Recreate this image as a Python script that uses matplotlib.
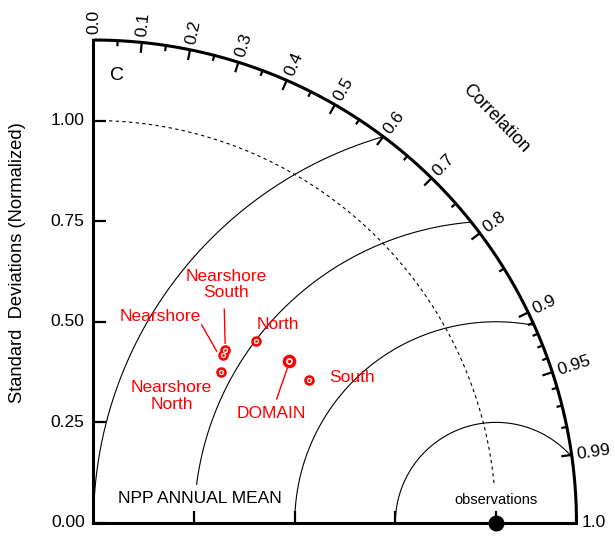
import numpy as np
import matplotlib
matplotlib.use("Agg")
import matplotlib.pyplot as plt

plt.rcParams['font.family'] = ['Liberation Sans', 'DejaVu Sans']

# ---- data: normalized standard deviation and correlation per region ----
regions = ["Nearshore South", "Nearshore", "North", "Nearshore North", "DOMAIN", "South"]
std_norm = [0.540, 0.527, 0.606, 0.490, 0.631, 0.643]
corr = [0.605, 0.610, 0.666, 0.644, 0.770, 0.833]
big_marker = [False, False, False, False, True, False]

obs_std = 1.0
max_std = 1.2
std_ticks = [0.0, 0.25, 0.50, 0.75, 1.00]
std_ticklabels = ["0.00", "0.25", "0.50", "0.75", "1.00"]
corr_major = [0.0, 0.1, 0.2, 0.3, 0.4, 0.5, 0.6, 0.7, 0.8, 0.9, 0.95, 0.99, 1.0]
corr_major_labels = ["0.0", "0.1", "0.2", "0.3", "0.4", "0.5", "0.6", "0.7", "0.8",
                     "0.9", "0.95", "0.99", "1.0"]
corr_minor = [0.05, 0.15, 0.25, 0.35, 0.45, 0.55, 0.65, 0.75, 0.85,
              0.91, 0.92, 0.93, 0.94, 0.96, 0.97, 0.98]
rms_radii = [0.25, 0.50, 0.75, 1.00]

# label text, label anchor (x, y) and optional leader line for each region
label_text = ["Nearshore\nSouth", "Nearshore", "North", "Nearshore\nNorth", "DOMAIN", "South"]
label_xy = [(0.329, 0.5925), (0.1665, 0.5126), (0.457, 0.492), (0.194, 0.3155),
            (0.441, 0.273), (0.642, 0.361)]
leaders = [((0.325, 0.531), (0.327, 0.4465)), ((0.269, 0.492), (0.306, 0.427)), None, None,
           ((0.4815, 0.3843), (0.455, 0.308)), None]

RED = "#ff0000"
FS = 12.5

fig = plt.figure(figsize=(6.15, 5.38), dpi=100)
ax = fig.add_axes([0, 0, 1, 1])
ax.set_xlim(-0.2323, 1.2957)
ax.set_ylim(-0.03727, 1.2994)
ax.set_aspect("equal")
ax.axis("off")

# outer correlation arc and the two straight axes
th = np.linspace(0, np.pi / 2, 400)
ax.plot(max_std * np.cos(th), max_std * np.sin(th), color="black", lw=2.2,
        solid_capstyle="butt", zorder=5)
ax.plot([0, 0], [0, max_std], color="black", lw=2.2, zorder=5, solid_capstyle="projecting")
ax.plot([0, max_std], [0, 0], color="black", lw=2.2, zorder=5, solid_capstyle="projecting")

# dashed arc at the reference standard deviation
ax.plot(obs_std * np.cos(th), obs_std * np.sin(th), color="black", lw=0.8,
        ls=(0, (3, 3)), zorder=2)

# centred RMS difference arcs around the observation point
for r in rms_radii:
    phi = np.linspace(0, np.pi, 800)
    x = obs_std + r * np.cos(phi)
    y = r * np.sin(phi)
    keep = (x ** 2 + y ** 2 <= max_std ** 2) & (x >= 0)
    ax.plot(x[keep], y[keep], color="black", lw=0.8, zorder=2)

# correlation ticks (inward) and labels
for c, lab in zip(corr_major, corr_major_labels):
    t = np.arccos(c)
    if 0.0 < c < 1.0:
        ax.plot([max_std * np.cos(t), (max_std - 0.026) * np.cos(t)],
                [max_std * np.sin(t), (max_std - 0.026) * np.sin(t)],
                color="black", lw=1.6, zorder=5, solid_capstyle="butt")
    rr = max_std + 0.014
    ax.text(rr * np.cos(t), rr * np.sin(t), lab, rotation=np.degrees(t),
            rotation_mode="anchor", ha="left", va="center", fontsize=FS)
for c in corr_minor:
    t = np.arccos(c)
    ax.plot([max_std * np.cos(t), (max_std - 0.014) * np.cos(t)],
            [max_std * np.sin(t), (max_std - 0.014) * np.sin(t)],
            color="black", lw=1.6, zorder=5, solid_capstyle="butt")

ax.text(1.0, 1.005, "Correlation", rotation=-46, rotation_mode="anchor",
        ha="center", va="center", fontsize=13)

# standard deviation ticks on both straight axes
for s, lab in zip(std_ticks, std_ticklabels):
    ax.plot([0, 0.03], [s, s], color="black", lw=1.6, zorder=5, solid_capstyle="butt")
    ax.text(-0.022, s, lab, ha="right", va="center", fontsize=FS)
    if s > 0:
        ax.plot([s, s], [0, 0.03], color="black", lw=1.6, zorder=5, solid_capstyle="butt")

ax.text(-0.188, 0.648, "Standard  Deviations (Normalized)", rotation=90,
        ha="center", va="center", fontsize=13.2)

# panel letter and diagram title
ax.text(0.058, 1.113, "C", ha="center", va="center", fontsize=14)
ax.text(0.265, 0.062, "NPP ANNUAL MEAN", ha="center", va="center", fontsize=FS,
        bbox=dict(facecolor="white", edgecolor="none", pad=4), zorder=3)

# observation point
ax.text(obs_std, 0.057, "observations", ha="center", va="center", fontsize=10.5,
        bbox=dict(facecolor="white", edgecolor="none", pad=5), zorder=3)
ax.plot([obs_std], [0], "o", color="black", ms=10.5, zorder=7, clip_on=False)

# region markers (bullseye) and labels
for s, c, big, lab, xy, ld in zip(std_norm, corr, big_marker, label_text, label_xy, leaders):
    t = np.arccos(c)
    x, y = s * np.cos(t), s * np.sin(t)
    ms = 9.8 if big else 7.6
    ax.plot([x], [y], "o", color=RED, ms=ms, mec="none", zorder=8)
    ax.plot([x], [y], "o", color="white", ms=ms * 0.5, mec="none", zorder=9)
    ax.plot([x], [y], "o", color=RED, ms=ms * 0.25, mec="none", zorder=10)
    ax.text(xy[0], xy[1], lab, color=RED, ha="center", va="center",
            fontsize=FS, linespacing=1.15, zorder=6)
    if ld is not None:
        ax.plot([ld[0][0], ld[1][0]], [ld[0][1], ld[1][1]], color=RED, lw=1.0, zorder=6)

fig.savefig("out.png", dpi=100)
